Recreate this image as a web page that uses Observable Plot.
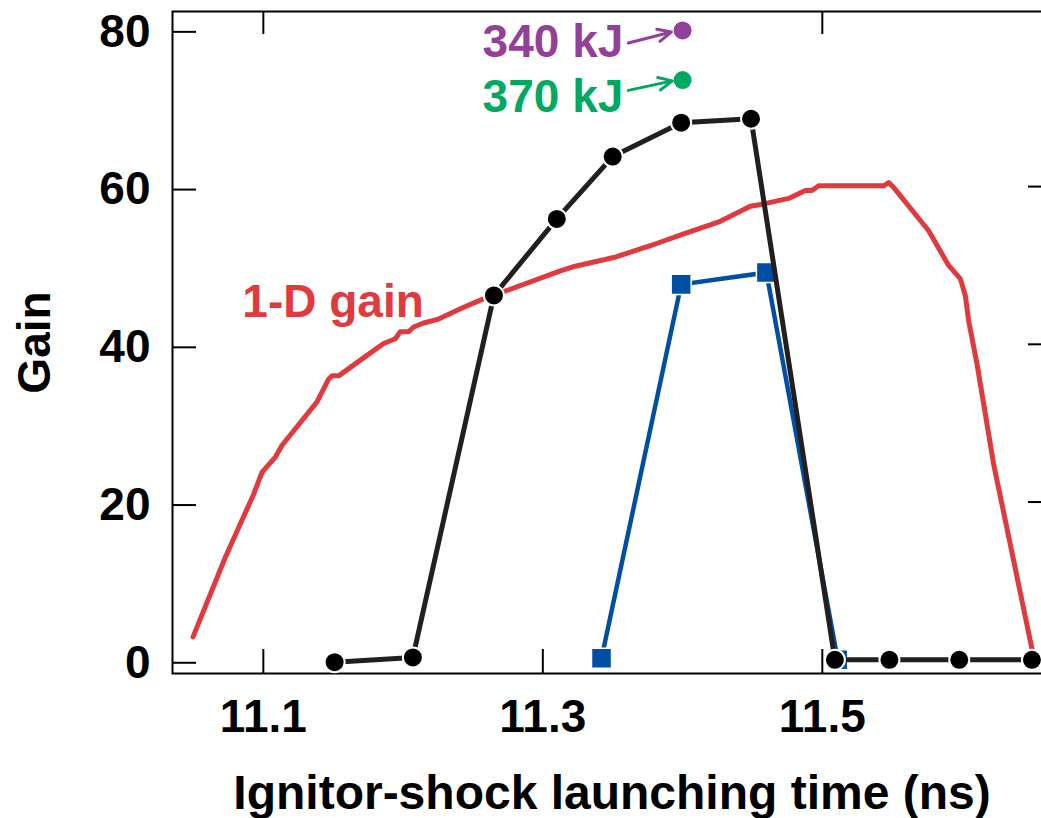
<!DOCTYPE html>
<html><head><meta charset="utf-8">
<script src="https://cdn.jsdelivr.net/npm/d3@7"></script>
<script src="https://cdn.jsdelivr.net/npm/@observablehq/plot@0.6"></script>
<style>html,body{margin:0;padding:0;overflow:hidden;background:#fff}
#chart svg{max-width:none !important;height:818px !important;width:1053px !important}</style>
</head><body><div id="chart"></div>
<script>
// 1-D gain curve (red)
const redTime = [11.0497,11.0728,11.0931,11.0991,11.1086,11.1134,11.1384,11.1467,11.1492,11.1539,
  11.1742,11.1861,11.1945,11.198,11.204,11.2075,11.2147,11.2254,11.241,11.2553,
  11.3125,11.3232,11.3507,11.3769,11.4008,11.427,11.4485,11.458,11.4759,11.4878,
  11.4926,11.4974,11.5439,11.5475,11.551,11.5761,11.5904,11.5988,11.6023,11.6047,
  11.6107,11.6226,11.65];
const redGain = [2.9,13.0,21.0,23.8,25.7,27.2,32.7,35.6,36.0,36.0,
  38.6,40.1,40.7,41.6,41.6,42.2,42.7,43.2,44.5,45.6,
  49.3,49.9,51.0,52.5,54.0,55.6,57.5,57.8,58.5,59.5,
  59.5,60.1,60.1,60.5,59.9,54.4,50.0,48.3,46.2,43.0,
  37.5,24.8,1.4];
// black circles series
const blackTime = [11.151,11.207,11.265,11.31,11.35,11.399,11.449,11.509,11.548,11.598,11.65];
const blackGain = [-0.3,0.3,46.2,55.9,63.8,68.1,68.6,0,0,0,0];
// blue squares series
const blueTime = [11.342,11.399,11.46,11.511];
const blueGain = [0.2,47.6,49.1,0];
// energy annotations
const energyLabels = ["340 kJ","370 kJ"];
const energyTime = [11.4,11.4];
const energyGain = [79.8,73.5];
const energyColors = ["#93409a","#00a862"];
const labelTime = [11.3576,11.3576];
const labelGain = [76.4,69.4];
const arrowFromTime = [11.3612,11.3612];
const arrowFromGain = [78.2,72.2];
const arrowToTime = [11.392,11.3927];
const arrowToGain = [79.6,73.4];
// curve label
const curveLabel = ["1-D gain"];
const curveLabelTime = [11.085];
const curveLabelGain = [43.4];
// ticks
const xTicks = [11.1,11.3,11.5];
const xTopTicks = [11.1,11.5];
const yTicks = [0,20,40,60,80];
const yRightTicks = [20,40,60];
const yDomain = [-1.74, 82.2];

const RED = "#e03a3f", BLUE = "#004fa2", BLACK = "#231f20";
const red = redTime.map((t,i)=>({t, g: redGain[i]}));
const black = blackTime.map((t,i)=>({t, g: blackGain[i]}));
const blue = blueTime.map((t,i)=>({t, g: blueGain[i]}));
const energy = energyLabels.map((l,i)=>({label:l, t:energyTime[i], g:energyGain[i], c:energyColors[i],
  lt:labelTime[i], lg:labelGain[i], at1:arrowFromTime[i], ag1:arrowFromGain[i], at2:arrowToTime[i], ag2:arrowToGain[i]}));
const curveLab = curveLabel.map((l,i)=>({label:l, t:curveLabelTime[i], g:curveLabelGain[i]}));
// top tick length: 23px expressed in gain units (plot area 662px tall)
const topTickLen = 23 * (yDomain[1] - yDomain[0]) / 662;

const font = {fontSize: 46, fontWeight: "bold"};
const chart = Plot.plot({
  width: 1053, height: 818,
  marginLeft: 172, marginRight: 2, marginTop: 11, marginBottom: 145,
  style: {fontFamily: "'Liberation Sans', Arial, Helvetica, sans-serif", fontWeight: "bold", fontSize: "46px", background: "white", color: "black", maxWidth: "none"},
  x: {domain: [11.035, 11.664]},
  y: {domain: yDomain},
  color: {type: "identity"},
  marks: [
    Plot.frame({stroke: "black", strokeWidth: 2}),
    Plot.axisX({ticks: xTicks, tickSize: -24, tickPadding: 50, strokeWidth: 2, label: null, tickFormat: d => d.toFixed(1), ...font}),
    Plot.ruleX(xTopTicks, {x: d => d, y1: yDomain[1], y2: yDomain[1] - topTickLen, stroke: "black", strokeWidth: 2}),
    Plot.axisY({ticks: yTicks, tickSize: -24, tickPadding: 46, dy: 3, strokeWidth: 2, label: null, tickFormat: d => String(d), ...font}),
    Plot.axisY({anchor: "right", ticks: yRightTicks, tickSize: -24, strokeWidth: 2, label: null, tickFormat: () => ""}),
    Plot.text(["Gain"], {frameAnchor: "left", rotate: -90, dx: -123, lineAnchor: "bottom", textAnchor: "middle", ...font}),
    Plot.text(["Ignitor-shock launching time (ns)"], {frameAnchor: "bottom", dy: 135, lineAnchor: "bottom", textAnchor: "middle", fontSize: 48, fontWeight: "bold"}),
    Plot.line(red, {x: "t", y: "g", stroke: RED, strokeWidth: 5}),
    Plot.line(blue, {x: "t", y: "g", stroke: BLUE, strokeWidth: 4.5}),
    Plot.dot(blue, {x: "t", y: "g", symbol: "square", r: 11.3, fill: BLUE, stroke: "white", strokeWidth: 1.5}),
    Plot.line(black, {x: "t", y: "g", stroke: BLACK, strokeWidth: 5}),
    Plot.dot(black, {x: "t", y: "g", r: 10, fill: "black", stroke: "white", strokeWidth: 2}),
    Plot.dot(energy, {x: "t", y: "g", r: 9, fill: "c"}),
    Plot.arrow(energy, {x1: "at1", y1: "ag1", x2: "at2", y2: "ag2", stroke: "c", strokeWidth: 3, headLength: 16, headAngle: 50}),
    Plot.text(energy, {x: "lt", y: "lg", text: "label", fill: "c", textAnchor: "end", lineAnchor: "bottom", ...font}),
    Plot.text(curveLab, {x: "t", y: "g", text: "label", fill: RED, textAnchor: "start", lineAnchor: "bottom", ...font})
  ]
});
document.getElementById("chart").appendChild(chart);
</script>
</body></html>
